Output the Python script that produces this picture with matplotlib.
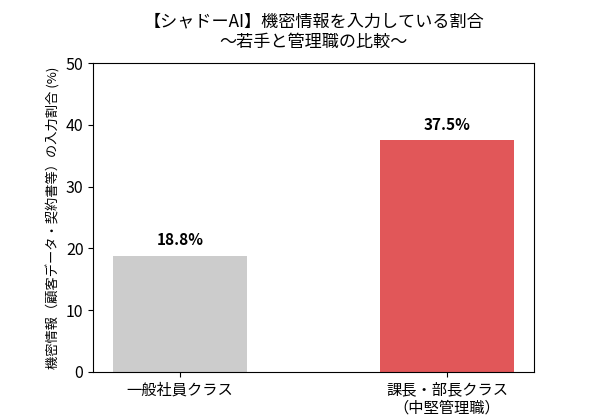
import matplotlib.pyplot as plt

plt.rcParams['font.family'] = ['Noto Sans CJK JP', 'DejaVu Sans']

categories = ['一般社員クラス', '課長・部長クラス\n（中堅管理職）']
values = [18.8, 37.5]
colors = ['#cccccc', '#e15759']

fig, ax = plt.subplots(figsize=(5.9, 4.16), dpi=100)
bars = ax.bar(range(len(values)), values, width=0.5, color=colors)

for b, v in zip(bars, values):
    ax.text(b.get_x() + b.get_width() / 2, v + 1.2, f'{v}%',
            ha='center', va='bottom', fontsize=11, fontweight='bold')

ax.set_xticks(range(len(values)))
ax.set_xticklabels(categories, fontsize=11, linespacing=1.1)
ax.set_ylim(0, 50)
ax.tick_params(axis='y', labelsize=11.5)
ax.set_ylabel('機密情報（顧客データ・契約書等）の入力割合 (%)', fontsize=9.5)
ax.set_title('【シャドーAI】機密情報を入力している割合\n～若手と管理職の比較～',
             fontsize=12.3, linespacing=1.15, pad=12)

plt.subplots_adjust(left=0.158, right=0.905, top=0.848, bottom=0.106)
plt.savefig('out.png')
